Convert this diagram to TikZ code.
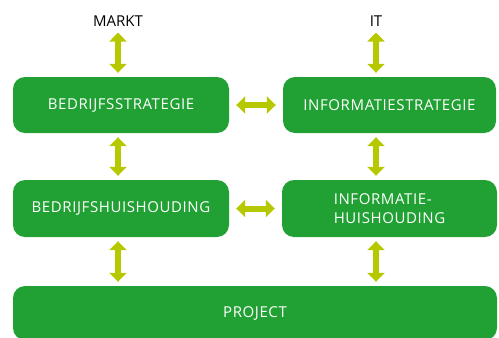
\documentclass[tikz,border=0pt]{standalone}
\usepackage{fontspec}
\setmainfont{Open Sans}
\newfontfamily\boxfont[LetterSpace=4]{Open Sans}
\usetikzlibrary{positioning,arrows.meta}
\definecolor{boxgreen}{RGB}{33,161,51}
\definecolor{arrowlime}{RGB}{181,200,0}
\begin{document}
\begin{tikzpicture}[x=1pt, y=-1pt,
    box/.style={rectangle, rounded corners=12pt, fill=boxgreen, text=white, inner sep=0pt, minimum height=56pt, font=\boxfont\fontsize{15}{19}\selectfont},
    dubbel/.style={draw=arrowlime, line width=6pt, {Triangle[width=17pt,length=9pt]}-{Triangle[width=17pt,length=9pt]}, shorten <=4pt, shorten >=4pt},
    label/.style={font=\fontsize{15}{18}\selectfont, inner sep=2pt}]
    \useasboundingbox (0,0) rectangle (499,338);
    % boxes
    \node[box, minimum width=216pt] (bs) at (121,105) {BEDRIJFSSTRATEGIE};
    \node[box, minimum width=213pt] (is) at (389.5,105) {INFORMATIESTRATEGIE};
    \node[box, minimum width=216pt, minimum height=57pt] (bh) at (121,208.5) {BEDRIJFSHUISHOUDING};
    \node[box, minimum width=215pt, minimum height=57pt, align=left] (ih) at (389.5,208.5) {INFORMATIE-\\HUISHOUDING};
    \node[box, minimum width=484pt, minimum height=54pt] (project) at (255,313) {PROJECT};
    % top labels
    \node[label] (markt) at (118,21) {MARKT};
    \node[label] (it) at (376,21) {IT};
    % arrows
    \draw[dubbel] (markt.south) -- (bs.north -| markt.south);
    \draw[dubbel] (it.south) -- (is.north -| it.south);
    \draw[dubbel] (bs.south -| markt) -- (bh.north -| markt);
    \draw[dubbel] (is.south -| it) -- (ih.north -| it);
    \draw[dubbel] (bh.south -| markt) -- (project.north -| markt);
    \draw[dubbel] (ih.south -| it) -- (project.north -| it);
    \draw[dubbel, shorten <=7pt, shorten >=7pt] (bs.east) -- (is.west);
    \draw[dubbel, shorten <=7pt, shorten >=7pt] (bh.east) -- (ih.west);
\end{tikzpicture}
\end{document}
